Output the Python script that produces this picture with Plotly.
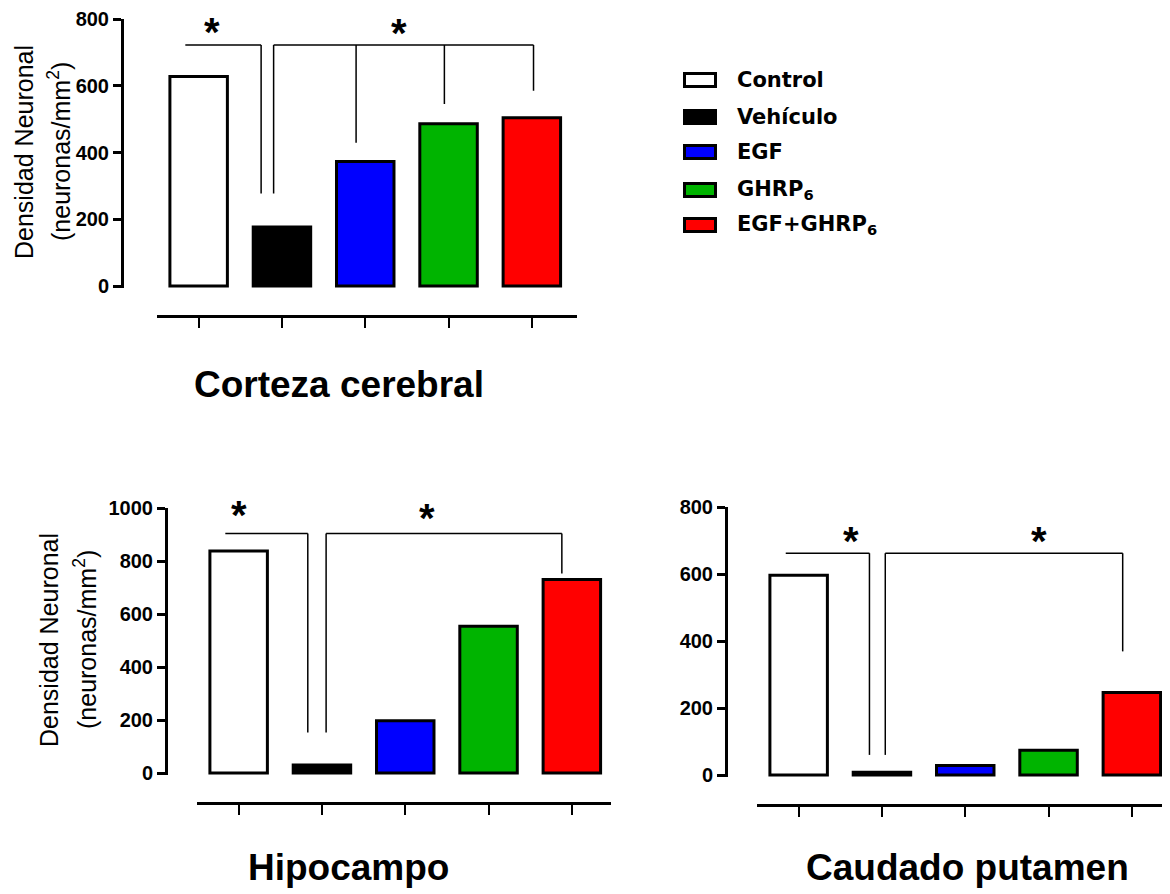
import plotly.graph_objects as go

# Groups and colours
grupos = ["Control", "Vehículo", "EGF", "GHRP<sub>6</sub>", "EGF+GHRP<sub>6</sub>"]
colores = ["#ffffff", "#000000", "#0000ff", "#00b400", "#ff0000"]

# Densidad neuronal (neuronas/mm2) per region
corteza = [628, 177, 373, 486, 504]
hipocampo = [838, 30, 197, 554, 730]
caudado = [596, 8, 28, 74, 246]

# Significance brackets: (level, left_start, left_end, left_drop, right_start, right_drop, [(x, drop), ...])
corteza_brk = (722, -0.16, 0.75, 277, 0.90, 277, [(1.89, 429), (2.95, 545), (4.02, 585)])
hipocampo_brk = (904, -0.16, 0.83, 153, 1.05, 153, [(3.88, 753)])
caudado_brk = (662, -0.155, 0.85, 60, 1.04, 60, [(3.89, 369)])
corteza_ast = [(0.16, 762), (2.41, 757)]
hipocampo_ast = [(0.0, 972), (2.26, 962)]
caudado_ast = [(0.63, 700), (2.88, 700)]

# page has an 8px body margin, so the figure is shrunk by it and positions shifted
OFF = 8
W, H = 1170 - OFF, 894 - OFF
FONT = "Arial, Liberation Sans, sans-serif"


def px(x):
    return (x - OFF) / W


def py(y):
    return 1 - (y - OFF) / H


fig = go.Figure()

panels = [
    # data, brackets, asterisks, axis suffix, y max, yaxis x px, y top px, y bottom px, xline px, x left px, x right px
    (corteza, corteza_brk, corteza_ast, "", 800, 122, 19, 286, 316, 157, 577),
    (hipocampo, hipocampo_brk, hipocampo_ast, "2", 1000, 166, 508, 773, 803, 197, 611),
    (caudado, caudado_brk, caudado_ast, "3", 800, 726, 507, 775, 805, 757, 1170),
]

for data, brk, ast, s, ymax, yx, ytop, ybot, xline, xl, xr in panels:
    xa = "x" + s
    ya = "y" + s
    fig.add_trace(go.Bar(
        x=list(range(len(grupos))), y=data,
        marker=dict(color=colores, line=dict(color="black", width=3)),
        width=0.69, xaxis=xa, yaxis=ya, showlegend=False,
    ))
    step = 83.3
    c0 = xl + 0.5 * step
    rng = [-0.5, (xr - c0) / step]
    pad = ymax * 0.008
    ybot_p = ybot + pad / ymax * (ybot - ytop)
    fig.update_layout(**{
        "xaxis" + s: dict(
            domain=[px(xl), min(px(xr), 1)], range=rng, anchor="free", position=py(xline),
            showline=True, linewidth=3, linecolor="black", ticks="outside",
            ticklen=10, tickwidth=2, tickcolor="black", tickvals=list(range(5)),
            showticklabels=False, showgrid=False, zeroline=False, fixedrange=True,
            automargin=False,
        ),
        "yaxis" + s: dict(
            domain=[py(ybot_p), py(ytop)],
            range=[-pad, ymax], anchor="free", position=px(yx),
            showline=True, linewidth=3, linecolor="black", ticks="outside",
            ticklen=8, tickwidth=3, tickcolor="black",
            tickvals=list(range(0, ymax + 1, 200)),
            tickfont=dict(family=FONT, size=20, color="black", weight="bold"),
            showgrid=False, zeroline=False, fixedrange=True, automargin=False,
        ),
    })
    lvl, l0, l1, ld, r0, rd, drops = brk
    lw = dict(color="black", width=1.5)
    ref = dict(xref=xa, yref=ya)
    fig.add_shape(type="line", x0=l0, x1=l1, y0=lvl, y1=lvl, line=lw, **ref)
    fig.add_shape(type="line", x0=l1, x1=l1, y0=lvl, y1=ld, line=lw, **ref)
    fig.add_shape(type="line", x0=r0, x1=r0, y0=lvl, y1=rd, line=lw, **ref)
    fig.add_shape(type="line", x0=r0, x1=drops[-1][0], y0=lvl, y1=lvl, line=lw, **ref)
    for dx, dy in drops:
        fig.add_shape(type="line", x0=dx, x1=dx, y0=lvl, y1=dy, line=lw, **ref)
    for ax_, ay_ in ast:
        fig.add_annotation(x=ax_, y=ay_, xref=xa, yref=ya, text="<b>*</b>",
                           showarrow=False, xanchor="center", yanchor="middle",
                           font=dict(family=FONT, size=40, color="black"))

# y axis titles
for x1, x2, yc in [(24, 59, 152), (49, 85, 640)]:
    fig.add_annotation(x=px(x1), y=py(yc), xref="paper", yref="paper",
                       text="Densidad Neuronal", textangle=-90, showarrow=False,
                       xanchor="center", yanchor="middle",
                       font=dict(family=FONT, size=25, color="black"))
    fig.add_annotation(x=px(x2), y=py(yc), xref="paper", yref="paper",
                       text="(neuronas/mm<sup>2</sup>)", textangle=-90, showarrow=False,
                       xanchor="center", yanchor="middle",
                       font=dict(family=FONT, size=25, color="black"))

# region titles
for txt, cx, cy in [("Corteza cerebral", 339, 384), ("Hipocampo", 348, 867), ("Caudado putamen", 967, 867)]:
    fig.add_annotation(x=px(cx), y=py(cy), xref="paper", yref="paper",
                       text="<b>" + txt + "</b>", showarrow=False,
                       xanchor="center", yanchor="middle",
                       font=dict(family=FONT, size=37, color="black"))

# legend
rows = [80, 117, 152, 190, 225]
for name, col, ry in zip(grupos, colores, rows):
    fig.add_shape(type="rect", xref="paper", yref="paper",
                  x0=px(684.5), x1=px(715.5), y0=py(ry + 6.5), y1=py(ry - 6.5),
                  line=dict(color="black", width=3), fillcolor=col)
    fig.add_annotation(x=px(735), y=py(ry), xref="paper", yref="paper",
                       text="<b>" + name + "</b>", showarrow=False,
                       xanchor="left", yanchor="middle",
                       font=dict(family="DejaVu Sans, sans-serif", size=21, color="black"))

fig.update_layout(
    width=W, height=H, margin=dict(l=0, r=0, t=0, b=0),
    plot_bgcolor="white", paper_bgcolor="white", showlegend=False,
)

fig.write_html("out.html")
